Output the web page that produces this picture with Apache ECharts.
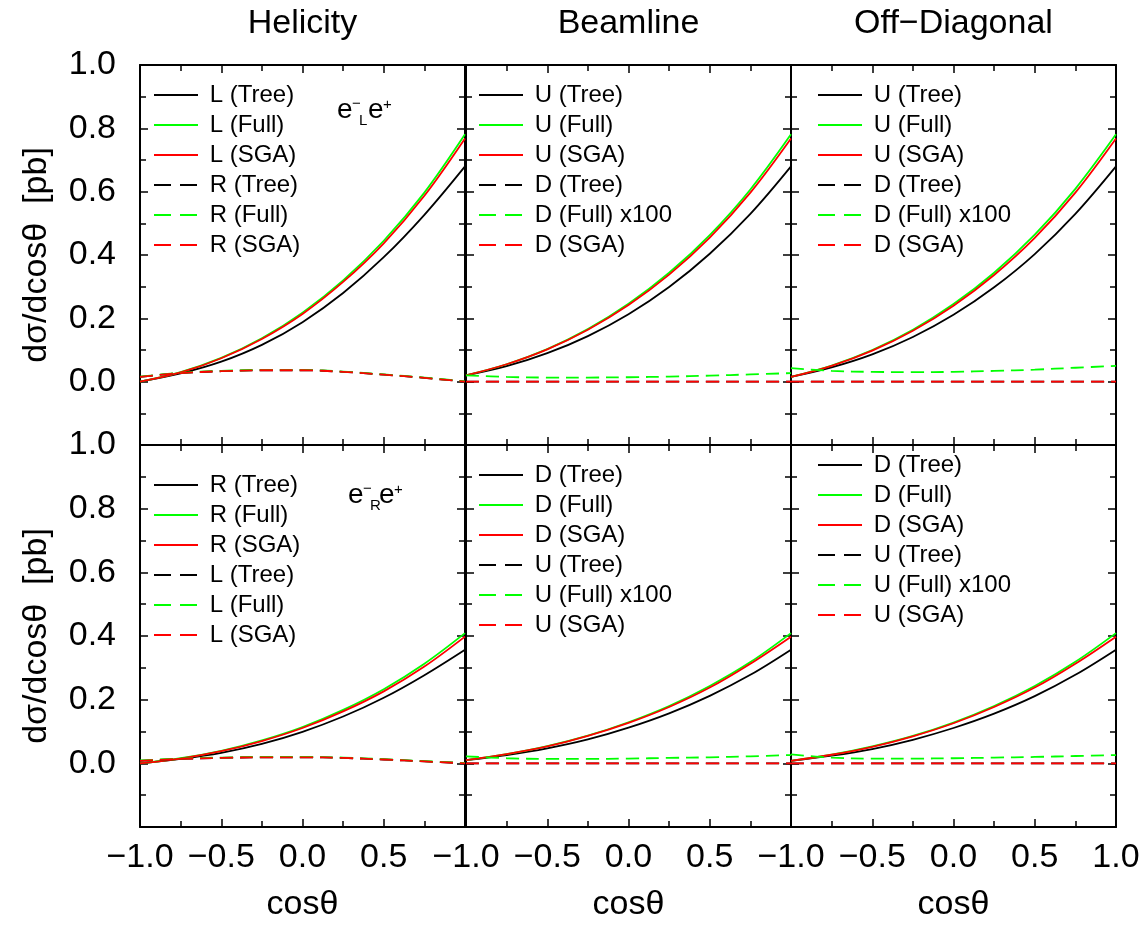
<!DOCTYPE html>
<html><head><meta charset="utf-8">
<script src="https://cdn.jsdelivr.net/npm/echarts@6/dist/echarts.min.js"></script>
<style>html,body{margin:0;padding:0;background:#fff}#c{width:1148px;height:926px}</style>
</head><body><div id="c"></div>
<script>
// ---------------- data ----------------
const cosTheta = [-1, -0.75, -0.5, -0.25, 0, 0.25, 0.5, 0.75, 1];
const columnTitles = ['Helicity', 'Beamline', 'Off\u2212Diagonal'];
const xAxisTitle = 'cos\u03b8';
const yAxisTitle = 'd\u03c3/dcos\u03b8  [pb]';
const annotations = [['\u2212', 'L'], ['\u2212', 'R']];

// Top row (e-_L e+ beam)
const helTop_LTree = [0.000, 0.026, 0.063, 0.116, 0.188, 0.280, 0.393, 0.527, 0.680];
const helTop_LFull = [0.000, 0.030, 0.075, 0.137, 0.218, 0.320, 0.445, 0.597, 0.781];
const helTop_LSGA  = [0.000, 0.029, 0.074, 0.135, 0.214, 0.315, 0.437, 0.587, 0.768];
const helTop_RTree = [0.015, 0.027, 0.033, 0.036, 0.036, 0.031, 0.022, 0.012, 0.000];
const helTop_RFull = [0.016, 0.028, 0.034, 0.037, 0.037, 0.032, 0.023, 0.013, 0.001];
const helTop_RSGA  = [0.015, 0.027, 0.033, 0.036, 0.036, 0.031, 0.022, 0.012, 0.000];

const beamTop_UTree = [0.020, 0.049, 0.090, 0.144, 0.213, 0.299, 0.404, 0.530, 0.680];
const beamTop_UFull = [0.020, 0.055, 0.103, 0.166, 0.246, 0.344, 0.463, 0.607, 0.781];
const beamTop_USGA  = [0.020, 0.055, 0.102, 0.164, 0.242, 0.338, 0.455, 0.597, 0.768];
const beamTop_DTree = [0, 0, 0, 0, 0, 0, 0, 0, 0];
const beamTop_DFull = [0.020, 0.015, 0.013, 0.013, 0.014, 0.016, 0.019, 0.023, 0.027];
const beamTop_DSGA  = [0, 0, 0, 0, 0, 0, 0, 0, 0];

const offTop_UTree = [0.015, 0.045, 0.086, 0.141, 0.211, 0.298, 0.403, 0.530, 0.680];
const offTop_UFull = [0.015, 0.051, 0.100, 0.164, 0.245, 0.344, 0.464, 0.609, 0.781];
const offTop_USGA  = [0.015, 0.050, 0.098, 0.161, 0.240, 0.337, 0.454, 0.597, 0.768];
const offTop_DTree = [0, 0, 0, 0, 0, 0, 0, 0, 0];
const offTop_DFull = [0.043, 0.034, 0.031, 0.030, 0.031, 0.034, 0.038, 0.044, 0.050];
const offTop_DSGA  = [0, 0, 0, 0, 0, 0, 0, 0, 0];

// Bottom row (e-_R e+ beam)
const helBot_RTree = [0.000, 0.014, 0.033, 0.061, 0.099, 0.147, 0.206, 0.277, 0.357];
const helBot_RFull = [0.000, 0.016, 0.039, 0.072, 0.114, 0.168, 0.233, 0.313, 0.409];
const helBot_RSGA  = [0.000, 0.015, 0.038, 0.070, 0.111, 0.163, 0.226, 0.304, 0.398];
const helBot_LTree = [0.008, 0.014, 0.017, 0.019, 0.019, 0.017, 0.012, 0.006, 0.000];
const helBot_LFull = [0.009, 0.015, 0.018, 0.020, 0.020, 0.018, 0.013, 0.007, 0.001];
const helBot_LSGA  = [0.008, 0.014, 0.017, 0.019, 0.019, 0.017, 0.012, 0.006, 0.000];

const beamBot_DTree = [0.010, 0.026, 0.047, 0.075, 0.112, 0.157, 0.212, 0.278, 0.357];
const beamBot_DFull = [0.010, 0.029, 0.054, 0.087, 0.129, 0.180, 0.243, 0.318, 0.409];
const beamBot_DSGA  = [0.010, 0.029, 0.053, 0.086, 0.127, 0.177, 0.238, 0.313, 0.398];
const beamBot_UTree = [0, 0, 0, 0, 0, 0, 0, 0, 0];
const beamBot_UFull = [0.022, 0.016, 0.014, 0.014, 0.015, 0.017, 0.019, 0.022, 0.026];
const beamBot_USGA  = [0, 0, 0, 0, 0, 0, 0, 0, 0];

const offBot_DTree = [0.008, 0.024, 0.045, 0.074, 0.111, 0.156, 0.211, 0.278, 0.357];
const offBot_DFull = [0.008, 0.027, 0.053, 0.086, 0.128, 0.180, 0.243, 0.319, 0.409];
const offBot_DSGA  = [0.008, 0.027, 0.052, 0.085, 0.126, 0.177, 0.238, 0.313, 0.398];
const offBot_UTree = [0, 0, 0, 0, 0, 0, 0, 0, 0];
const offBot_UFull = [0.028, 0.018, 0.015, 0.015, 0.016, 0.018, 0.020, 0.023, 0.026];
const offBot_USGA  = [0, 0, 0, 0, 0, 0, 0, 0, 0];

// panel -> [label, values, colour key, dashed]
const panels = [
  [['L (Tree)', helTop_LTree, 'k', 0], ['L (Full)', helTop_LFull, 'g', 0], ['L (SGA)', helTop_LSGA, 'r', 0],
   ['R (Tree)', helTop_RTree, 'k', 1], ['R (Full)', helTop_RFull, 'g', 1], ['R (SGA)', helTop_RSGA, 'r', 1]],
  [['U (Tree)', beamTop_UTree, 'k', 0], ['U (Full)', beamTop_UFull, 'g', 0], ['U (SGA)', beamTop_USGA, 'r', 0],
   ['D (Tree)', beamTop_DTree, 'k', 1], ['D (Full) x100', beamTop_DFull, 'g', 1], ['D (SGA)', beamTop_DSGA, 'r', 1]],
  [['U (Tree)', offTop_UTree, 'k', 0], ['U (Full)', offTop_UFull, 'g', 0], ['U (SGA)', offTop_USGA, 'r', 0],
   ['D (Tree)', offTop_DTree, 'k', 1], ['D (Full) x100', offTop_DFull, 'g', 1], ['D (SGA)', offTop_DSGA, 'r', 1]],
  [['R (Tree)', helBot_RTree, 'k', 0], ['R (Full)', helBot_RFull, 'g', 0], ['R (SGA)', helBot_RSGA, 'r', 0],
   ['L (Tree)', helBot_LTree, 'k', 1], ['L (Full)', helBot_LFull, 'g', 1], ['L (SGA)', helBot_LSGA, 'r', 1]],
  [['D (Tree)', beamBot_DTree, 'k', 0], ['D (Full)', beamBot_DFull, 'g', 0], ['D (SGA)', beamBot_DSGA, 'r', 0],
   ['U (Tree)', beamBot_UTree, 'k', 1], ['U (Full) x100', beamBot_UFull, 'g', 1], ['U (SGA)', beamBot_USGA, 'r', 1]],
  [['D (Tree)', offBot_DTree, 'k', 0], ['D (Full)', offBot_DFull, 'g', 0], ['D (SGA)', offBot_DSGA, 'r', 0],
   ['U (Tree)', offBot_UTree, 'k', 1], ['U (Full) x100', offBot_UFull, 'g', 1], ['U (SGA)', offBot_USGA, 'r', 1]]
];

// ---------------- layout / style ----------------
const FONT = 'Liberation Sans, Arial, Helvetica, sans-serif';
const COLORS = { k: '#000000', g: '#00ff00', r: '#ff0000' };
const colLeft = [140, 466, 791];
const colWidth = 325;
const rowTop = [65, 445];
const rowHeight = [380, 382];
const legendPos = [[153, 83], [478, 83], [817, 83], [153, 473], [478, 463], [817, 453]];
const DASH = [13, 7];
const LEGEND_DASH = [17, 9];
const BIG = 34;

const fmtX = v => (v < 0 ? '\u2212' : '') + Math.abs(v).toFixed(1);
const fmtY = v => (v < 0 ? '\u2212' : '') + Math.abs(v).toFixed(1);

const grids = [], xAxes = [], yAxes = [], series = [], legends = [];
const axisLine = { show: true, onZero: false, lineStyle: { color: '#000', width: 2 } };
const tick = { show: true, inside: true, length: 8, lineStyle: { color: '#000', width: 1.5 } };
const mtick = { show: true, splitNumber: 2, length: 6, lineStyle: { color: '#000', width: 1.5 } };
const bigText = { fontSize: BIG, color: '#000', fontFamily: FONT };

for (let i = 0; i < 6; i++) {
  const r = Math.floor(i / 3), c = i % 3;
  grids.push({ left: colLeft[c], top: rowTop[r], width: colWidth, height: rowHeight[r],
    show: false, containLabel: false, outerBoundsMode: 'none' });
  xAxes.push({ gridIndex: i, type: 'value', min: -1, max: 1, interval: 0.5, position: 'bottom',
    axisLine, axisTick: tick, minorTick: mtick, splitLine: { show: false }, minorSplitLine: { show: false },
    axisLabel: { show: r === 1, margin: 14, ...bigText, showMaxLabel: c === 2, showMinLabel: true, formatter: fmtX, hideOverlap: false },
    name: r === 1 ? xAxisTitle : '', nameLocation: 'middle', nameGap: 61, nameTextStyle: bigText, nameMoveOverlap: false });
  xAxes.push({ gridIndex: i, type: 'value', min: -1, max: 1, interval: 0.5, position: 'top',
    axisLine, axisTick: tick, minorTick: mtick, splitLine: { show: false }, axisLabel: { show: false },
    name: r === 0 ? columnTitles[c] : '', nameLocation: 'middle', nameGap: 24, nameTextStyle: bigText, nameMoveOverlap: false });
  yAxes.push({ gridIndex: i, type: 'value', min: -0.2, max: 1.0, interval: 0.2, position: 'left',
    axisLine, axisTick: tick, minorTick: mtick, splitLine: { show: false }, minorSplitLine: { show: false },
    axisLabel: { show: c === 0, margin: 24, ...bigText, showMinLabel: false, showMaxLabel: true, formatter: fmtY, hideOverlap: false },
    name: c === 0 ? yAxisTitle : '', nameLocation: 'middle', nameGap: 86, nameRotate: 90, nameTextStyle: bigText, nameMoveOverlap: false });
  yAxes.push({ gridIndex: i, type: 'value', min: -0.2, max: 1.0, interval: 0.2, position: 'right',
    axisLine, axisTick: tick, minorTick: mtick, splitLine: { show: false }, axisLabel: { show: false } });

  const legendData = [];
  panels[i].forEach(([label, vals, col, dashed]) => {
    const name = 'p' + i + '|' + label;
    series.push({
      type: 'line', name, xAxisIndex: 2 * i, yAxisIndex: 2 * i,
      data: cosTheta.map((x, k) => [x, vals[k]]),
      smooth: 0.35, showSymbol: false, symbol: 'none',
      lineStyle: { color: COLORS[col], width: 1.8, type: dashed ? DASH : 'solid' },
      itemStyle: { color: COLORS[col] }
    });
    legendData.push({ name, lineStyle: { type: dashed ? LEGEND_DASH : 'solid' } });
  });
  legends.push({
    show: true, type: 'plain',
    orient: 'vertical', left: legendPos[i][0], top: legendPos[i][1], itemWidth: 44, itemHeight: 14,
    itemGap: 6, padding: 0, data: legendData,
    itemStyle: { opacity: 0 },
    formatter: n => ' ' + n.split('|')[1],
    textStyle: { fontSize: 24, color: '#000', fontFamily: FONT }
  });
}

const graphics = [];
const annPos = [[337, 112], [348, 497]];
annotations.forEach(([sup, sub], k) => {
  const [x0, y0] = annPos[k];
  const t = (text, x, y, size) => ({ type: 'text', x, y, silent: true,
    style: { text, fontSize: size, fontFamily: FONT, fill: '#000', align: 'left', verticalAlign: 'middle' } });
  graphics.push(t('e', x0, y0 - 2, 28));
  graphics.push(t(sup, x0 + 15, y0 - 8, 15));
  graphics.push(t(sub, x0 + 22, y0 + 9, 15));
  graphics.push(t('e', x0 + 31, y0 - 2, 28));
  graphics.push(t('+', x0 + 46, y0 - 7, 15));
});

const chart = echarts.init(document.getElementById('c'), null, { renderer: 'canvas' });
chart.setOption({
  animation: false, backgroundColor: '#fff',
  grid: grids, xAxis: xAxes, yAxis: yAxes, series, legend: legends, graphic: graphics,
  tooltip: { show: false }
});
</script></body></html>
